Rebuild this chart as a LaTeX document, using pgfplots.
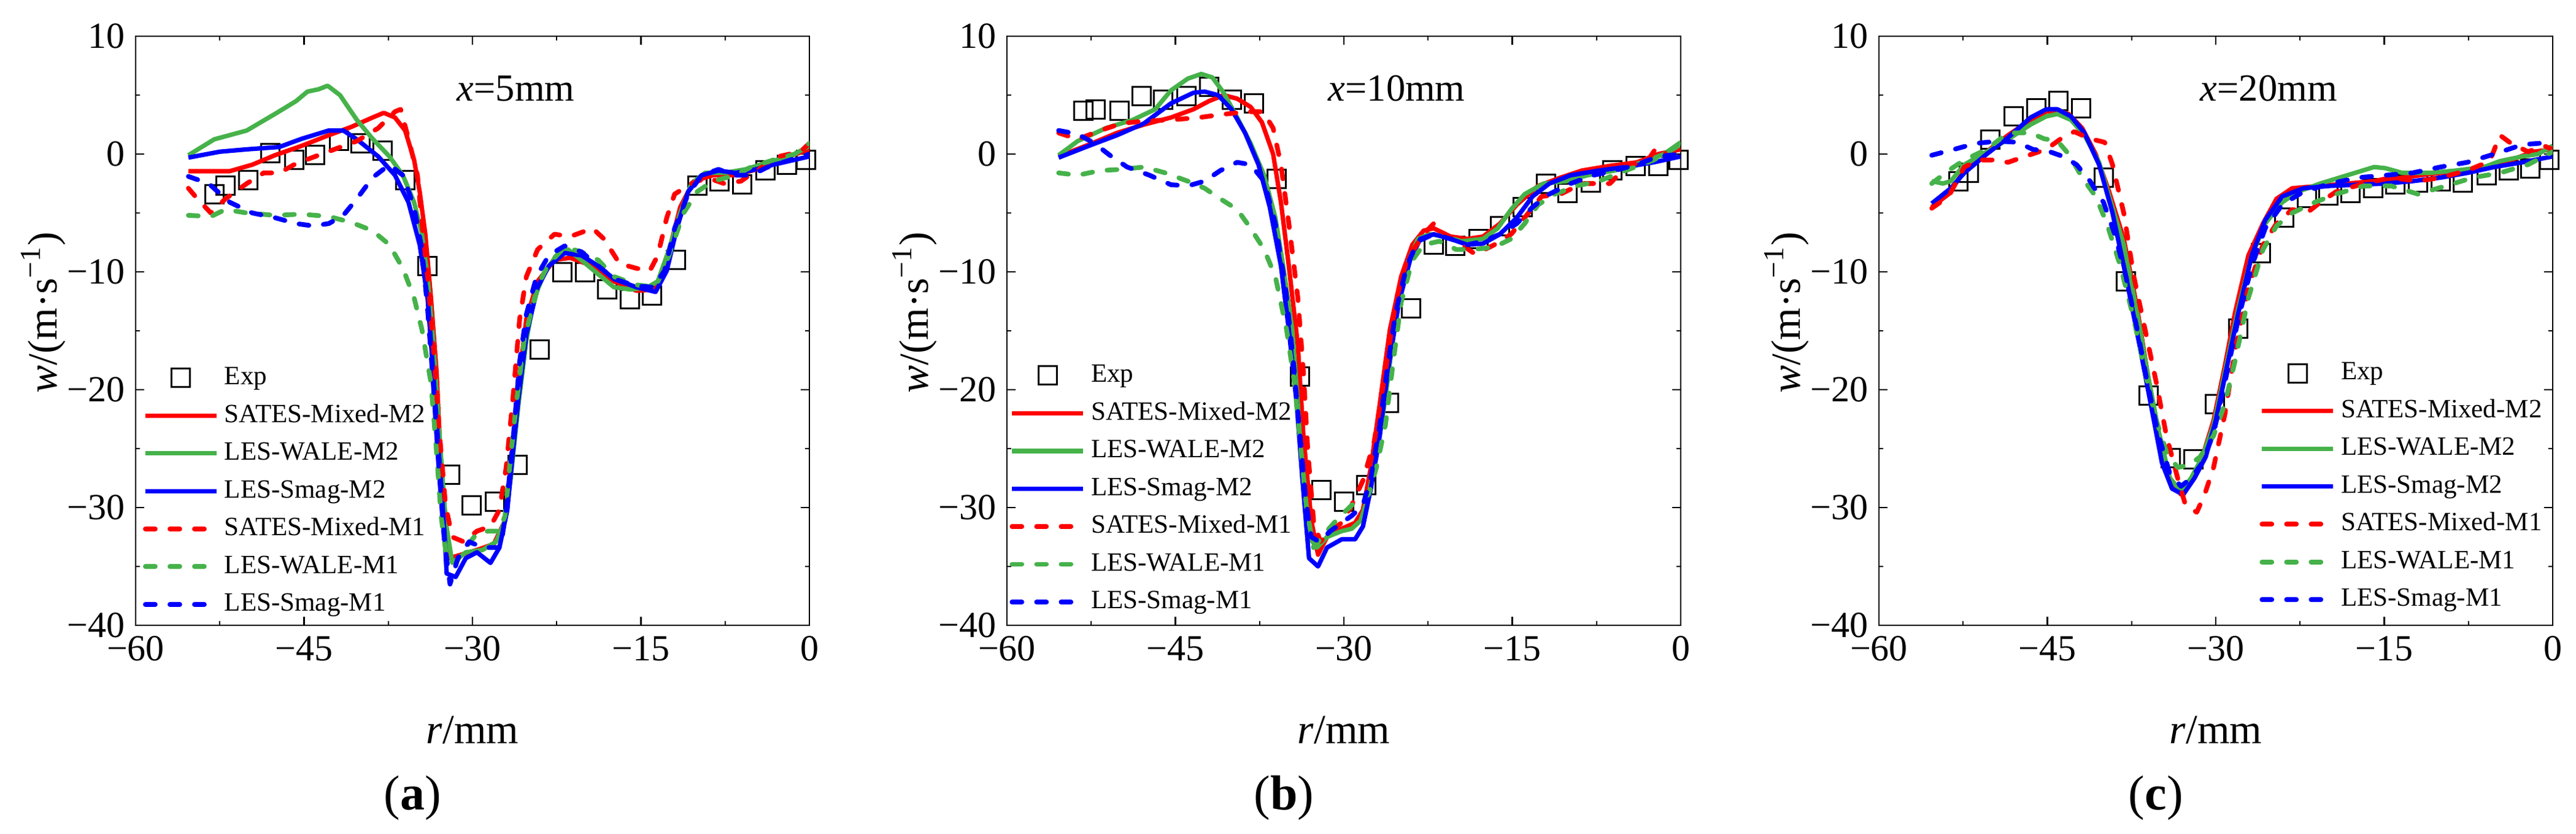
\documentclass[border=0pt]{standalone}
\usepackage{pgfplots}
\pgfplotsset{compat=1.18}
\usepackage{fontspec}
\setmainfont{Liberation Serif}
\definecolor{cred}{RGB}{255,0,0}
\definecolor{cgreen}{RGB}{70,178,74}
\definecolor{cblue}{RGB}{0,0,255}
\pgfplotsset{
  legend image code/.code={\draw[mark repeat=2,mark phase=2,#1] plot coordinates {(0pt,0pt) (11.6pt,0pt) (23.2pt,0pt)};},
  exp/.style={only marks, mark=square, mark size=3pt, black, mark options={line width=0.6pt, solid}},
  mtwo/.style={solid, line width=1.45pt, no marks, line join=round},
  mone/.style={line width=1.55pt, dash pattern=on 3.2pt off 4.8pt, line cap=round, line join=round, no marks},
  panel/.style={
    scale only axis, width=219.6pt, height=192pt,
    clip mode=individual,
    xmin=-60, xmax=0, ymin=-40, ymax=10,
    xtick={-60,-45,-30,-15,0}, xticklabels={−60,−45,−30,−15,0},
    ytick={-40,-30,-20,-10,0,10}, yticklabels={−40,−30,−20,−10,0,10},
    minor xtick={-52.5,-37.5,-22.5,-7.5},
    minor ytick={-35,-25,-15,-5,5},
    tick align=inside,
    major tick length=2.8pt, minor tick length=1.4pt,
    every tick/.style={black, line width=0.45pt},
    axis line style={line width=0.45pt},
    tick label style={font=\fontsize{12}{14}\selectfont},
    label style={font=\fontsize{13.5}{16}\selectfont},
    xlabel={\textit{r}/mm},
    ylabel={\textit{w}/(m·s\textsuperscript{−1})},
    xlabel style={at={(axis description cs:0.5,-0.201)}, anchor=base},
    ylabel style={at={(axis description cs:-0.137,0.531)}, anchor=center},
    legend cell align=left,
    legend style={draw=none, fill=none, inner sep=0pt, outer sep=0pt,
      row sep=4pt, column sep=1.8pt,
      font=\fontsize{8.6}{10}\selectfont,
      nodes={inner sep=0pt, text height=6.3pt, text depth=2pt}},
  },
}
\begin{document}
\begin{tikzpicture}
\path[use as bounding box] (0,0) rectangle (839.6pt,271.6pt);
% ---------------- (a) ----------------
\begin{axis}[panel, at={(44.2pt,67.8pt)}, anchor=south west,
  legend style={at={(0.011,0.014)}, anchor=south west}]
\addplot[exp] coordinates {(-53.0,-3.4)(-52.0,-2.7)(-50.0,-2.2)(-48.0,0.1)(-45.9,-0.5)(-44.0,-0.1)(-41.9,1.1)(-40.0,0.9)(-38.0,0.3)(-36.0,-2.2)(-34.0,-9.5)(-32.0,-27.2)(-30.1,-29.8)(-28.0,-29.5)(-26.0,-26.4)(-24.0,-16.6)(-22.0,-10.0)(-20.0,-10.0)(-18.0,-11.5)(-16.0,-12.3)(-14.0,-12.0)(-11.9,-9.0)(-10.0,-2.7)(-8.0,-2.3)(-6.0,-2.6)(-3.9,-1.4)(-2.0,-0.9)(-0.3,-0.5)};
\addlegendentry{Exp}
\addplot[mtwo, cred] coordinates {(-55.3,-1.45)(-51.6,-1.45)(-49.6,-0.9)(-47.6,-0.1)(-45.2,0.7)(-42.8,1.6)(-40.8,2.3)(-38.9,3.1)(-37.9,3.5)(-36.9,3.1)(-36.0,2.0)(-35.2,-0.5)(-34.7,-3.2)(-34.2,-6.8)(-33.7,-12.2)(-33.2,-18.5)(-32.8,-26.6)(-32.1,-34.3)(-31.0,-34.0)(-29.6,-33.6)(-28.1,-33.1)(-27.1,-31.1)(-26.6,-26.6)(-25.9,-19.4)(-25.2,-14.0)(-24.2,-10.8)(-22.7,-9.0)(-21.3,-8.8)(-19.3,-9.5)(-17.4,-10.8)(-15.4,-11.6)(-13.7,-11.5)(-12.7,-9.0)(-11.5,-4.5)(-10.3,-2.3)(-8.6,-1.8)(-6.6,-1.8)(-4.7,-1.3)(-2.7,-0.5)(0,0.4)};
\addlegendentry{SATES-Mixed-M2}
\addplot[mtwo, cgreen] coordinates {(-55.3,-0.1)(-53.0,1.25)(-50.1,2.0)(-47.6,3.4)(-45.7,4.5)(-44.7,5.3)(-43.7,5.5)(-42.9,5.8)(-41.8,5.0)(-40.3,2.9)(-38.9,1.3)(-37.4,-0.2)(-36.2,-1.8)(-35.2,-4.1)(-34.5,-6.8)(-34.0,-10.4)(-33.5,-15.8)(-33.0,-23.0)(-32.4,-31.1)(-31.8,-34.7)(-30.6,-33.8)(-29.1,-33.6)(-27.9,-32.9)(-27.1,-31.1)(-26.6,-27.5)(-25.9,-21.2)(-25.2,-15.8)(-24.5,-12.2)(-23.5,-9.9)(-22.5,-8.6)(-21.5,-8.1)(-20.3,-9.0)(-18.8,-10.2)(-17.4,-11.3)(-15.9,-11.5)(-14.4,-11.3)(-13.5,-10.8)(-12.5,-8.1)(-11.5,-5.0)(-10.5,-2.5)(-9.3,-1.6)(-7.6,-1.6)(-5.7,-1.3)(-3.7,-0.7)(-1.7,-0.2)(0,0.7)};
\addlegendentry{LES-WALE-M2}
\addplot[mtwo, cblue] coordinates {(-55.3,-0.3)(-52.5,0.2)(-50.1,0.4)(-47.2,0.6)(-45.2,1.3)(-42.8,2.0)(-41.5,2.0)(-40.3,1.25)(-38.4,-0.2)(-36.9,-1.8)(-35.7,-4.1)(-34.7,-7.7)(-34.0,-12.2)(-33.5,-18.5)(-33.0,-25.3)(-32.5,-32.0)(-32.3,-35.6)(-31.5,-35.9)(-30.6,-34.3)(-29.6,-33.8)(-28.4,-34.7)(-27.6,-33.4)(-26.9,-30.2)(-26.4,-25.3)(-25.9,-20.7)(-25.2,-15.3)(-24.2,-11.3)(-23.2,-9.5)(-21.8,-8.4)(-20.3,-8.6)(-18.8,-9.5)(-17.4,-10.6)(-15.4,-11.3)(-13.7,-11.7)(-12.7,-9.9)(-11.8,-6.3)(-10.8,-3.2)(-9.6,-1.8)(-8.1,-1.4)(-6.6,-1.6)(-5.2,-1.4)(-3.2,-0.9)(0,-0.2)};
\addlegendentry{LES-Smag-M2}
\addplot[mone, cred] coordinates {(-55.3,-2.9)(-54.5,-3.8)(-53.3,-5.0)(-52.0,-3.8)(-50.1,-2.5)(-48.6,-1.6)(-47.2,-1.6)(-45.7,-0.8)(-44.0,-0.2)(-42.3,0.4)(-40.3,1.1)(-38.4,2.2)(-36.9,3.6)(-36.4,3.8)(-35.7,1.3)(-34.9,-1.8)(-34.5,-5.9)(-34.0,-10.4)(-33.5,-16.2)(-33.0,-23.0)(-32.4,-29.8)(-31.8,-32.5)(-30.8,-32.9)(-29.6,-32.0)(-28.4,-31.6)(-27.6,-30.2)(-27.0,-26.6)(-26.4,-20.7)(-25.8,-14.0)(-25.2,-10.4)(-24.2,-8.1)(-22.7,-6.8)(-21.3,-7.0)(-19.3,-6.3)(-18.3,-7.2)(-16.9,-9.3)(-15.4,-9.7)(-14.2,-9.9)(-13.5,-8.6)(-12.7,-5.4)(-12.0,-3.4)(-10.5,-2.5)(-9.1,-2.0)(-7.6,-2.5)(-6.1,-2.3)(-4.7,-1.4)(-2.7,-0.2)(-0.8,0.2)(0,0.9)};
\addlegendentry{SATES-Mixed-M1}
\addplot[mone, cgreen] coordinates {(-55.3,-5.2)(-53.3,-5.3)(-52.0,-4.7)(-50.1,-5.0)(-47.6,-5.2)(-45.2,-5.1)(-42.8,-5.3)(-40.8,-5.8)(-38.9,-6.5)(-37.4,-7.7)(-36.2,-9.7)(-35.2,-12.2)(-34.5,-14.9)(-33.7,-19.4)(-33.2,-25.3)(-32.8,-30.7)(-32.3,-34.3)(-31.5,-34.7)(-30.6,-33.4)(-29.6,-32.2)(-28.6,-32.0)(-27.6,-32.0)(-27.1,-30.7)(-26.7,-26.6)(-26.1,-21.2)(-25.4,-15.8)(-24.7,-13.1)(-24.0,-10.8)(-23.2,-9.3)(-21.8,-7.9)(-20.3,-8.3)(-18.8,-9.0)(-17.4,-10.4)(-15.4,-11.1)(-13.7,-11.3)(-12.5,-8.6)(-11.2,-5.0)(-10.0,-3.2)(-8.6,-2.3)(-6.6,-1.8)(-5.2,-1.1)(-3.2,-0.5)(-1.3,0.0)(0,0.9)};
\addlegendentry{LES-WALE-M1}
\addplot[mone, cblue] coordinates {(-55.3,-1.9)(-53.5,-2.5)(-51.6,-4.1)(-49.6,-5.0)(-47.6,-5.4)(-45.7,-5.9)(-44.2,-6.1)(-42.8,-5.9)(-41.5,-5.2)(-40.3,-3.8)(-38.9,-2.0)(-37.4,-0.9)(-36.2,-1.8)(-35.2,-4.5)(-34.5,-8.1)(-34.0,-13.1)(-33.5,-19.4)(-33.0,-26.6)(-32.5,-32.9)(-32.0,-36.5)(-31.3,-34.3)(-30.3,-32.9)(-29.1,-33.4)(-28.1,-33.4)(-27.5,-33.4)(-27.0,-30.2)(-26.4,-24.4)(-25.8,-17.6)(-25.2,-13.6)(-24.3,-10.4)(-23.2,-8.6)(-21.8,-7.8)(-20.3,-8.3)(-18.8,-9.5)(-17.4,-10.6)(-15.4,-11.2)(-13.9,-11.3)(-12.9,-9.9)(-12.0,-6.3)(-10.8,-3.4)(-9.6,-1.8)(-8.1,-1.3)(-6.6,-1.8)(-5.2,-1.8)(-3.7,-1.1)(-1.7,-0.5)(0,0.0)};
\addlegendentry{LES-Smag-M1}
\node[anchor=base west, font=\fontsize{12.5}{15}\selectfont] at (axis description cs:0.461,0.89) {\textit{x}=5mm};
\node[anchor=base, font=\fontsize{16}{19}\selectfont] at (axis description cs:0.411,-0.3135) {(\textbf{a})};
\end{axis}
% ---------------- (b) ----------------
\begin{axis}[panel, at={(328.2pt,67.8pt)}, anchor=south west,
  legend style={at={(0.004,0.018)}, anchor=south west}]
\addplot[exp] coordinates {(-53.2,3.7)(-52.1,3.8)(-50.0,3.7)(-48.0,4.9)(-46.1,4.6)(-44.0,4.9)(-42.0,5.7)(-40.0,4.6)(-38.0,4.3)(-36.0,-2.1)(-33.9,-18.9)(-32.0,-28.5)(-30.0,-29.5)(-28.0,-28.1)(-26.0,-21.1)(-24.0,-13.1)(-22.0,-7.7)(-20.1,-7.8)(-18.0,-7.2)(-16.1,-6.1)(-14.1,-4.5)(-12.0,-2.5)(-10.1,-3.3)(-8.0,-2.4)(-6.1,-1.4)(-4.0,-1.0)(-2.0,-1.0)(-0.2,-0.5)};
\addlegendentry{Exp}
\addplot[mtwo, cred] coordinates {(-55.4,-0.2)(-52.7,0.8)(-50.2,1.8)(-47.8,2.5)(-45.4,3.1)(-43.4,3.8)(-42.0,4.5)(-40.7,5.0)(-39.5,4.7)(-38.3,4.0)(-37.3,2.7)(-36.3,0.0)(-35.6,-4.1)(-34.9,-9.5)(-34.1,-16.2)(-33.6,-23.9)(-32.9,-31.1)(-32.3,-34.0)(-31.5,-32.5)(-30.2,-31.8)(-29.0,-31.3)(-28.3,-30.2)(-27.6,-26.6)(-26.8,-21.2)(-25.9,-14.9)(-24.9,-10.4)(-23.9,-7.7)(-22.9,-6.5)(-22.0,-6.3)(-20.5,-7.0)(-19.0,-7.2)(-17.6,-7.0)(-16.1,-5.9)(-14.6,-4.3)(-12.7,-2.7)(-10.7,-2.0)(-8.8,-1.4)(-6.3,-1.0)(-3.9,-0.7)(-2.0,0.0)(0,0.4)};
\addlegendentry{SATES-Mixed-M2}
\addplot[mtwo, cgreen] coordinates {(-55.4,-0.1)(-53.7,1.1)(-51.2,2.2)(-48.8,2.9)(-46.8,3.8)(-45.4,5.4)(-43.9,6.4)(-42.7,6.8)(-41.7,6.5)(-40.7,5.2)(-39.5,3.1)(-38.3,0.9)(-37.1,-1.8)(-36.1,-5.4)(-35.4,-9.5)(-34.6,-14.9)(-34.1,-21.2)(-33.7,-27.5)(-33.1,-32.5)(-32.4,-33.4)(-31.5,-32.5)(-30.2,-32.0)(-29.3,-31.8)(-28.5,-31.1)(-27.8,-28.9)(-27.1,-25.7)(-26.3,-20.7)(-25.4,-14.0)(-24.4,-9.5)(-23.4,-7.2)(-22.4,-6.8)(-21.0,-7.0)(-19.5,-7.4)(-17.6,-7.2)(-16.3,-6.3)(-15.1,-4.7)(-13.9,-3.4)(-12.2,-2.5)(-10.2,-2.3)(-8.3,-1.8)(-5.9,-1.4)(-3.4,-0.7)(-1.5,0.0)(0,1.0)};
\addlegendentry{LES-WALE-M2}
\addplot[mtwo, cblue] coordinates {(-55.4,-0.3)(-52.7,0.7)(-50.2,1.6)(-47.8,2.6)(-45.4,4.3)(-43.4,5.2)(-42.4,5.3)(-41.2,5.0)(-40.0,3.8)(-38.8,1.8)(-37.6,-0.9)(-36.6,-4.5)(-35.6,-9.5)(-34.9,-14.9)(-34.2,-21.2)(-33.7,-27.5)(-33.1,-34.3)(-32.3,-35.0)(-31.5,-33.4)(-30.2,-32.7)(-29.0,-32.7)(-28.3,-31.6)(-27.6,-28.4)(-26.8,-23.9)(-26.1,-18.5)(-25.1,-12.6)(-24.1,-9.0)(-23.2,-7.2)(-22.0,-6.8)(-20.5,-7.2)(-19.0,-7.7)(-17.6,-7.6)(-16.1,-6.8)(-14.6,-5.4)(-13.2,-3.6)(-11.7,-2.5)(-9.8,-1.8)(-7.3,-1.4)(-4.9,-1.1)(-2.4,-0.7)(0,-0.2)};
\addlegendentry{LES-Smag-M2}
\addplot[mone, cred] coordinates {(-55.4,1.8)(-53.7,1.25)(-51.7,2.0)(-49.8,2.6)(-47.8,2.8)(-45.4,2.9)(-42.9,3.1)(-40.5,3.4)(-38.5,3.6)(-37.2,3.6)(-36.3,2.2)(-35.6,-0.9)(-34.9,-5.9)(-34.1,-12.2)(-33.6,-18.5)(-33.2,-25.3)(-32.7,-31.1)(-32.1,-32.9)(-31.2,-32.0)(-30.2,-31.3)(-29.3,-29.8)(-28.3,-27.7)(-27.3,-24.4)(-26.3,-18.5)(-25.4,-12.6)(-24.4,-9.0)(-22.9,-6.8)(-22.0,-5.9)(-21.0,-6.8)(-19.5,-7.7)(-18.3,-8.5)(-16.6,-7.7)(-15.1,-6.8)(-13.9,-5.4)(-12.4,-3.6)(-10.7,-3.4)(-8.8,-2.5)(-6.3,-2.5)(-4.9,-1.1)(-2.9,-0.5)(-2.2,0.5)(-1.5,0.0)(0,0.4)};
\addlegendentry{SATES-Mixed-M1}
\addplot[mone, cgreen] coordinates {(-55.4,-1.6)(-53.7,-1.8)(-51.7,-1.4)(-49.8,-1.3)(-47.8,-1.1)(-45.9,-1.6)(-43.9,-2.3)(-42.4,-2.9)(-41.0,-3.8)(-39.5,-4.7)(-38.3,-6.3)(-37.1,-8.1)(-36.1,-10.4)(-35.1,-14.9)(-34.4,-19.4)(-33.8,-25.3)(-33.3,-30.2)(-32.7,-33.4)(-31.7,-32.2)(-30.5,-30.9)(-29.3,-29.8)(-27.8,-28.9)(-27.1,-26.6)(-26.3,-23.0)(-25.6,-17.6)(-24.9,-12.6)(-23.9,-9.0)(-22.9,-7.7)(-21.5,-7.4)(-20.0,-8.1)(-18.5,-8.1)(-16.6,-7.9)(-15.1,-7.2)(-13.9,-5.9)(-12.7,-4.3)(-11.2,-3.4)(-9.3,-2.7)(-7.3,-2.3)(-4.9,-1.4)(-2.4,-0.5)(0,0.8)};
\addlegendentry{LES-WALE-M1}
\addplot[mone, cblue] coordinates {(-55.4,2.0)(-53.7,1.7)(-52.2,0.9)(-50.7,-0.2)(-49.3,-1.1)(-47.3,-1.8)(-45.4,-2.6)(-43.9,-2.7)(-42.4,-2.3)(-41.0,-1.4)(-39.5,-0.7)(-38.3,-0.9)(-37.1,-2.3)(-36.1,-5.9)(-35.2,-11.3)(-34.5,-17.6)(-33.9,-23.9)(-33.4,-29.3)(-32.9,-32.5)(-32.2,-32.9)(-31.2,-32.0)(-30.2,-31.3)(-29.3,-30.7)(-28.3,-29.8)(-27.6,-27.5)(-26.8,-23.0)(-26.1,-18.0)(-25.4,-13.5)(-24.4,-9.5)(-23.4,-7.4)(-22.0,-6.8)(-20.5,-7.2)(-19.0,-7.7)(-17.6,-7.4)(-16.1,-6.8)(-14.6,-5.9)(-13.2,-4.5)(-11.7,-3.4)(-9.8,-2.5)(-7.8,-1.8)(-5.9,-1.4)(-3.9,-0.9)(-2.0,-0.2)(0,0.0)};
\addlegendentry{LES-Smag-M1}
\node[anchor=base west, font=\fontsize{12.5}{15}\selectfont] at (axis description cs:0.461,0.89) {\textit{x}=10mm};
\node[anchor=base, font=\fontsize{16}{19}\selectfont] at (axis description cs:0.411,-0.3135) {(\textbf{b})};
\end{axis}
% ---------------- (c) ----------------
\begin{axis}[panel, at={(612.4pt,67.8pt)}, anchor=south west,
  legend style={at={(0.565,0.022)}, anchor=south west}]
\addplot[exp] coordinates {(-52.9,-2.3)(-52.0,-1.6)(-50.1,1.25)(-48.0,3.2)(-46.0,3.9)(-44.0,4.5)(-42.0,3.9)(-40.0,-2.0)(-38.0,-10.8)(-36.0,-20.5)(-34.0,-25.8)(-32.0,-25.9)(-30.1,-21.2)(-28.0,-14.8)(-26.0,-8.4)(-23.9,-5.4)(-21.9,-3.7)(-20.0,-3.5)(-18.0,-3.3)(-16.0,-2.9)(-14.0,-2.6)(-12.0,-2.4)(-10.0,-2.3)(-8.0,-2.4)(-5.9,-1.8)(-3.9,-1.4)(-2.0,-1.2)(-0.3,-0.5)};
\addlegendentry{Exp}
\addplot[mtwo, cred] coordinates {(-55.3,-4.5)(-53.8,-3.4)(-52.4,-1.4)(-50.4,0.2)(-48.5,1.6)(-46.5,2.9)(-45.1,3.6)(-44.1,3.7)(-43.1,3.4)(-41.9,2.2)(-40.7,0.0)(-39.5,-3.2)(-38.2,-7.2)(-37.0,-13.1)(-36.1,-18.5)(-35.1,-23.9)(-34.1,-27.5)(-33.1,-28.9)(-32.2,-27.7)(-31.2,-25.7)(-30.2,-22.6)(-29.2,-18.0)(-28.3,-13.5)(-27.1,-8.6)(-25.8,-5.9)(-24.6,-3.8)(-23.2,-2.9)(-20.7,-2.7)(-18.3,-2.5)(-15.9,-2.3)(-13.4,-2.0)(-11.0,-1.7)(-8.6,-1.5)(-6.1,-1.1)(-3.7,-0.5)(-1.7,0.2)(0,0.4)};
\addlegendentry{SATES-Mixed-M2}
\addplot[mtwo, cgreen] coordinates {(-55.3,-2.3)(-54.3,-2.5)(-53.6,-2.3)(-52.4,-0.9)(-50.4,0.2)(-48.5,1.25)(-46.5,2.5)(-45.1,3.2)(-44.1,3.4)(-42.9,2.9)(-41.7,1.6)(-40.4,-0.7)(-39.5,-3.6)(-38.2,-7.7)(-37.0,-13.5)(-36.1,-18.5)(-35.1,-23.5)(-34.1,-27.5)(-33.1,-28.6)(-32.2,-27.5)(-31.2,-25.7)(-30.2,-23.0)(-29.2,-18.5)(-28.0,-13.1)(-26.8,-8.6)(-25.6,-5.9)(-24.1,-4.1)(-22.7,-3.2)(-20.7,-2.5)(-18.3,-1.8)(-15.9,-1.1)(-14.9,-1.2)(-13.4,-1.6)(-11.0,-1.6)(-8.6,-1.4)(-6.1,-1.1)(-4.7,-0.6)(-2.7,-0.2)(-1.3,0.0)(0,0.7)};
\addlegendentry{LES-WALE-M2}
\addplot[mtwo, cblue] coordinates {(-55.3,-4.2)(-53.6,-2.9)(-52.4,-1.6)(-50.4,0.0)(-48.5,1.4)(-46.5,3.1)(-45.1,3.8)(-44.1,3.8)(-42.9,3.2)(-41.7,1.8)(-40.4,-0.9)(-39.2,-5.0)(-38.0,-10.4)(-36.8,-16.2)(-35.8,-21.2)(-34.8,-26.2)(-33.9,-28.4)(-32.9,-28.9)(-31.9,-27.5)(-30.9,-25.7)(-30.0,-22.6)(-29.0,-18.0)(-28.0,-13.5)(-26.8,-8.6)(-25.6,-5.6)(-24.1,-3.6)(-22.2,-2.9)(-19.8,-2.7)(-17.3,-2.6)(-14.9,-2.5)(-12.5,-2.3)(-10.0,-2.0)(-7.6,-1.6)(-5.2,-1.1)(-2.7,-0.7)(0,-0.2)};
\addlegendentry{LES-Smag-M2}
\addplot[mone, cred] coordinates {(-55.3,-4.6)(-53.8,-3.6)(-52.4,-1.1)(-51.1,-0.5)(-49.9,-0.5)(-48.5,-0.7)(-47.0,-0.2)(-45.1,0.4)(-43.8,1.3)(-42.6,1.9)(-41.2,1.3)(-39.9,1.0)(-39.2,-0.9)(-38.2,-5.0)(-37.3,-10.4)(-36.3,-14.9)(-35.3,-19.4)(-34.4,-23.9)(-33.4,-27.5)(-32.7,-29.8)(-31.7,-30.4)(-31.0,-28.9)(-30.2,-26.6)(-29.2,-22.1)(-28.3,-16.7)(-27.1,-11.3)(-25.8,-7.7)(-24.6,-5.9)(-23.2,-4.7)(-21.9,-5.0)(-20.7,-4.1)(-19.3,-3.2)(-16.8,-2.5)(-14.4,-2.0)(-12.0,-2.3)(-10.0,-2.0)(-7.6,-1.4)(-5.6,-0.6)(-4.7,1.6)(-3.7,0.9)(-2.2,0.2)(-0.8,0.7)(0,0.4)};
\addlegendentry{SATES-Mixed-M1}
\addplot[mone, cgreen] coordinates {(-55.3,-2.5)(-53.8,-1.4)(-52.4,-0.5)(-50.4,0.4)(-48.5,1.8)(-46.5,1.8)(-45.3,1.3)(-44.1,1.1)(-43.1,0.0)(-41.9,-2.0)(-40.7,-3.6)(-39.7,-5.9)(-38.5,-9.5)(-37.3,-14.0)(-36.3,-18.5)(-35.3,-22.6)(-34.4,-25.3)(-33.4,-26.6)(-32.4,-26.4)(-31.4,-25.7)(-30.2,-23.9)(-29.2,-21.2)(-28.3,-17.6)(-27.1,-12.2)(-25.8,-8.1)(-24.6,-6.1)(-23.2,-5.0)(-21.2,-4.1)(-19.3,-3.4)(-16.8,-2.7)(-14.4,-2.7)(-12.0,-3.4)(-9.5,-2.7)(-7.1,-2.0)(-4.7,-1.6)(-2.2,-0.9)(0,0.2)};
\addlegendentry{LES-WALE-M1}
\addplot[mone, cblue] coordinates {(-55.3,-0.1)(-53.3,0.4)(-51.4,0.9)(-49.4,1.1)(-47.7,1.0)(-46.3,0.4)(-44.8,0.2)(-43.6,-0.2)(-42.4,-0.9)(-41.2,-2.3)(-40.0,-4.1)(-39.0,-6.8)(-38.0,-10.4)(-37.0,-14.9)(-36.1,-19.4)(-35.1,-23.9)(-34.1,-27.1)(-33.1,-28.2)(-32.2,-27.5)(-31.2,-26.2)(-30.2,-23.7)(-29.2,-19.4)(-28.0,-14.0)(-26.8,-9.5)(-25.6,-6.3)(-24.1,-4.3)(-22.2,-3.2)(-19.8,-2.5)(-17.3,-2.0)(-14.9,-1.8)(-12.5,-1.6)(-10.0,-1.1)(-7.6,-0.7)(-5.2,0.0)(-2.7,0.8)(0,1.0)};
\addlegendentry{LES-Smag-M1}
\node[anchor=base west, font=\fontsize{12.5}{15}\selectfont] at (axis description cs:0.461,0.89) {\textit{x}=20mm};
\node[anchor=base, font=\fontsize{16}{19}\selectfont] at (axis description cs:0.411,-0.3135) {(\textbf{c})};
\end{axis}
\end{tikzpicture}
\end{document}
